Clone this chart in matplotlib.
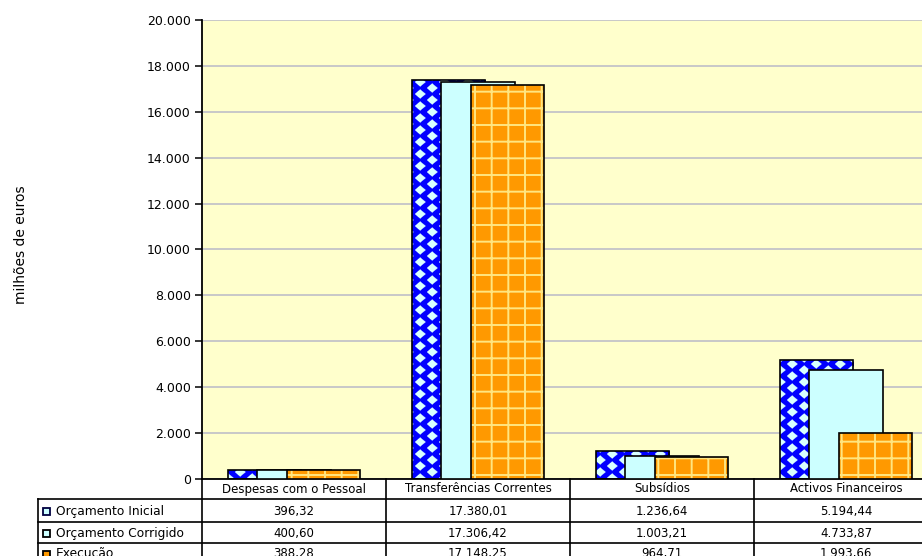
import numpy as np
import matplotlib
matplotlib.use("Agg")
import matplotlib.pyplot as plt
from matplotlib.patches import Rectangle
from matplotlib.lines import Line2D
from matplotlib.transforms import blended_transform_factory

# ---- data (milhões de euros) ----
categories = ["Despesas com o Pessoal", "Transferências Correntes", "Subsídios", "Activos Financeiros"]
series_names = ["Orçamento Inicial", "Orçamento Corrigido", "Execução"]
orcamento_inicial = [396.32, 17380.01, 1236.64, 5194.44]
orcamento_corrigido = [400.60, 17306.42, 1003.21, 4733.87]
execucao = [388.28, 17148.25, 964.71, 1993.66]
y_ticks = [0, 2000, 4000, 6000, 8000, 10000, 12000, 14000, 16000, 18000, 20000]

plt.rcParams["font.family"] = ["DejaVu Sans"]
plt.rcParams["hatch.linewidth"] = 1.4

W, H = 922, 556
fig = plt.figure(figsize=(W / 100, H / 100), dpi=100)
fig.patch.set_facecolor("white")


def fy(py):
    return 1 - py / H


# plot area (right part runs past the figure edge)
ax_left, ax_right, ax_top, ax_bottom = 202, 938, 20, 479
ax = fig.add_axes([ax_left / W, fy(ax_bottom), (ax_right - ax_left) / W, (ax_bottom - ax_top) / H])
ax.set_facecolor("#FFFFCC")
ax.set_xlim(-0.5, 3.5)
ax.set_ylim(0, 20000)

x = np.arange(len(categories))
width = 0.40
offs = [-0.16, 0.0, 0.16]

BLUE = "#0000FF"
CYAN = "#CCFFFF"
ORANGE = "#FF9900"
GRIDY = "#FFE680"

# Orçamento Inicial: blue bars with a cyan diamond texture
blue_bars = ax.bar(x + offs[0], orcamento_inicial, width, color=BLUE, linewidth=0, zorder=2)


def diamond_texture(x0, y0, w, h):
    u = x0 + np.arange(w) + 0.5
    v = y0 + np.arange(h) + 0.5
    U, V = np.meshgrid(u, v)
    A, B = 24.0, 12.0
    hx, hy = 6.5, 5.5

    def dist(cx, cy):
        du = np.mod(U - cx + A / 2, A) - A / 2
        dv = np.mod(V - cy + B / 2, B) - B / 2
        return np.abs(du) / hx + np.abs(dv) / hy

    d = np.minimum(dist(0, 0), dist(A / 2, B / 2))
    t = np.clip((0.85 - d) / 0.25 + 0.5, 0, 1)[..., None]
    blue = np.array([0.0, 0.0, 1.0])
    cyan = np.array([0.85, 1.0, 1.0])
    return blue * (1 - t) + cyan * t


for p in blue_bars:
    bb = p.get_window_extent()
    w = max(int(np.ceil(bb.width)), 1)
    h = max(int(np.ceil(bb.height)), 1)
    img = diamond_texture(bb.x0, bb.y0, w, h)
    im = ax.imshow(img, extent=(p.get_x(), p.get_x() + p.get_width(), 0, p.get_height()),
                   origin="lower", aspect="auto", interpolation="bilinear", zorder=2.1)
    im.set_clip_path(p)
ax.bar(x + offs[0], orcamento_inicial, width, fill=False, edgecolor="black", linewidth=1.2, zorder=2.2)

# Orçamento Corrigido: plain light cyan
ax.bar(x + offs[1], orcamento_corrigido, width, color=CYAN, edgecolor="black", linewidth=1.2, zorder=3)

# Execução: orange with a light yellow grid
ax.bar(x + offs[2], execucao, width, color=ORANGE, edgecolor=GRIDY, hatch="+", linewidth=0, zorder=4)
ax.bar(x + offs[2], execucao, width, fill=False, edgecolor="black", linewidth=1.2, zorder=4.1)

ax.set_xlim(-0.5, 3.5)
ax.set_ylim(0, 20000)

# axes styling
ax.set_yticks(y_ticks)
ax.set_yticklabels([f"{v:,.0f}".replace(",", ".") for v in y_ticks], fontsize=9)
ax.yaxis.grid(True, color="#C8C8C8", linewidth=1.4)
ax.set_axisbelow(True)
ax.tick_params(axis="y", direction="out", length=5, width=1.1, pad=3)
ax.set_xticks([])
for s in ["top", "right"]:
    ax.spines[s].set_visible(False)
ax.spines["left"].set_linewidth(1.3)
ax.spines["bottom"].set_linewidth(1.3)

fig.text(21 / W, fy(245), "milhões de euros", rotation=90, ha="center", va="center", fontsize=10)

# ---- data table below the plot ----
trans = blended_transform_factory(ax.transData, fig.transFigure)
row_lines = [499, 522, 543]
lw = 1.2
bounds = np.arange(len(categories) + 1) - 0.5
for b in bounds:
    fig.add_artist(Line2D([b, b], [fy(ax_bottom), fy(H + 10)], transform=trans, color="black", linewidth=lw, clip_on=False))
for r in row_lines:
    fig.add_artist(Line2D([38 / W, 1.02], [fy(r), fy(r)], transform=fig.transFigure, color="black", linewidth=lw))
fig.add_artist(Line2D([38 / W, 38 / W], [fy(row_lines[0]), fy(H + 10)], transform=fig.transFigure, color="black", linewidth=lw))

for i, c in enumerate(categories):
    fig.text(i, fy(489), c, transform=trans, ha="center", va="center", fontsize=8.5)


def fmt(v):
    return f"{v:,.2f}".replace(",", " ").replace(".", ",").replace(" ", ".")


row_centers = [511, 533, 554]
series = [orcamento_inicial, orcamento_corrigido, execucao]
key_faces = [CYAN, CYAN, ORANGE]
key_edges = ["#000040", "black", "black"]
for name, vals, yc, fc, ec in zip(series_names, series, row_centers, key_faces, key_edges):
    fig.patches.append(Rectangle((43 / W, fy(yc + 3.5)), 7 / W, 7 / H, transform=fig.transFigure,
                                 facecolor=fc, edgecolor=ec, linewidth=1.3, figure=fig))
    fig.text(56 / W, fy(yc), name, ha="left", va="center", fontsize=8.8)
    for i, v in enumerate(vals):
        fig.text(i, fy(yc), fmt(v), transform=trans, ha="center", va="center", fontsize=8.5)

fig.savefig("out.png", dpi=100)
